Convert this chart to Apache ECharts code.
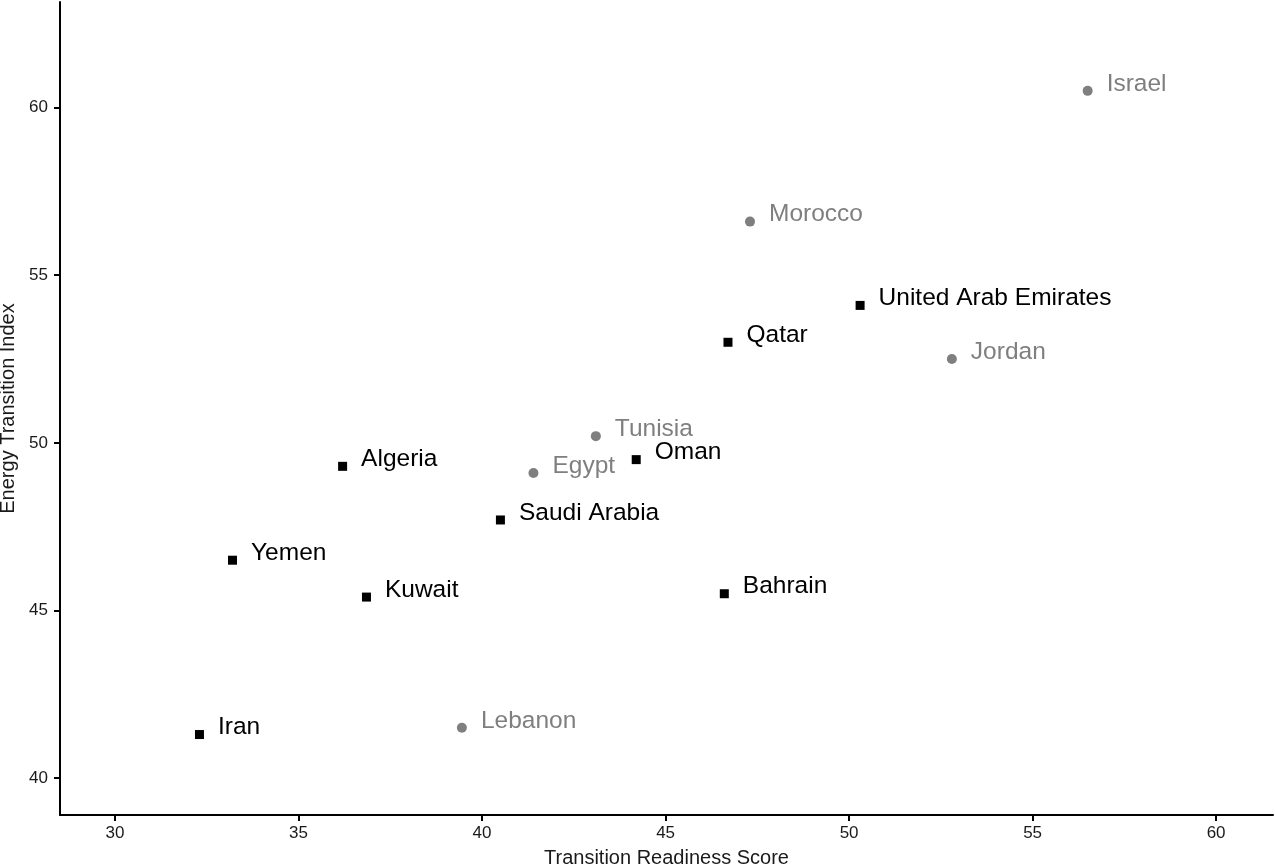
<!DOCTYPE html>
<html>
<head>
<meta charset="utf-8">
<script src="https://cdn.jsdelivr.net/npm/echarts@6/dist/echarts.min.js"></script>
<style>html,body{margin:0;padding:0;background:#fff}#c{width:1275px;height:867px}</style>
</head>
<body>
<div id="c"></div>
<script>
// Group A (black squares)
const squareNames = ["United Arab Emirates","Qatar","Oman","Algeria","Saudi Arabia","Yemen","Kuwait","Bahrain","Iran"];
const squareX = [50.3, 46.7, 44.2, 36.2, 40.5, 33.2, 36.85, 46.6, 32.3];
const squareY = [54.1, 53.0, 49.5, 49.3, 47.7, 46.5, 45.4, 45.5, 41.3];
// Group B (grey circles)
const circleNames = ["Israel","Morocco","Jordan","Tunisia","Egypt","Lebanon"];
const circleX = [56.5, 47.3, 52.8, 43.1, 41.4, 39.45];
const circleY = [60.5, 56.6, 52.5, 50.2, 49.1, 41.5];
const xTicks = [30, 35, 40, 45, 50, 55, 60];
const yTicks = [40, 45, 50, 55, 60];

const FONT = '"Liberation Sans", Arial, Helvetica, sans-serif';
const sqData = squareNames.map((n, i) => [squareX[i], squareY[i], n]);
const ciData = circleNames.map((n, i) => [circleX[i], circleY[i], n]);

function lbl(color) {
  return {
    show: true, position: 'right', distance: 14, offset: [0, -7],
    formatter: p => p.data[2], color: color, fontSize: 24.5, fontFamily: FONT
  };
}

const chart = echarts.init(document.getElementById('c'), null, {renderer: 'canvas'});
chart.setOption({
  animation: false,
  backgroundColor: '#fff',
  grid: {left: 60, right: 2, top: 2, bottom: 52, containLabel: false, outerBoundsMode: 'none'},
  xAxis: {
    type: 'value', min: 28.5, max: 61.55,
    name: 'Transition Readiness Score', nameLocation: 'middle', nameGap: 33,
    nameTextStyle: {fontSize: 20, color: '#1a1a1a', fontFamily: FONT},
    axisLine: {show: true, onZero: false, lineStyle: {color: '#000', width: 2}},
    axisTick: {show: true, length: 6, lineStyle: {color: '#000', width: 2}, customValues: xTicks},
    axisLabel: {fontSize: 17, color: '#1a1a1a', margin: 10, fontFamily: FONT, customValues: xTicks},
    splitLine: {show: false}
  },
  yAxis: {
    type: 'value', min: 38.9, max: 63.15,
    name: 'Energy Transition Index', nameLocation: 'middle', nameGap: 35, nameRotate: 90,
    nameTextStyle: {fontSize: 20, color: '#1a1a1a', fontFamily: FONT},
    axisLine: {show: true, onZero: false, lineStyle: {color: '#000', width: 2}},
    axisTick: {show: true, length: 6, lineStyle: {color: '#000', width: 2}, customValues: yTicks},
    axisLabel: {fontSize: 17, color: '#1a1a1a', margin: 12, fontFamily: FONT, customValues: yTicks},
    splitLine: {show: false}
  },
  series: [
    {type: 'scatter', data: sqData, symbol: 'rect', symbolSize: 9,
     itemStyle: {color: '#000', opacity: 1}, label: lbl('#000')},
    {type: 'scatter', data: ciData, symbol: 'circle', symbolSize: 10,
     itemStyle: {color: '#7f7f7f', opacity: 1}, label: lbl('#7f7f7f')}
  ]
});
</script>
</body>
</html>
